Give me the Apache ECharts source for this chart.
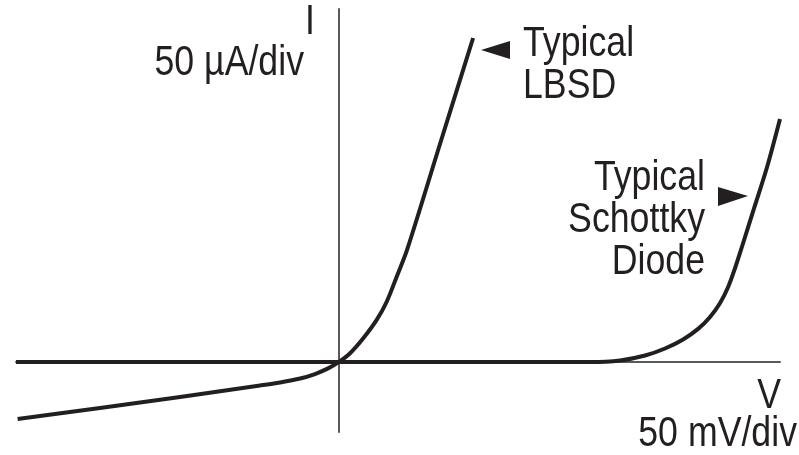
<!DOCTYPE html>
<html><head><meta charset="utf-8">
<script src="https://cdn.jsdelivr.net/npm/echarts@6/dist/echarts.min.js"></script>
<style>html,body{margin:0;padding:0;background:#fff}#c{width:799px;height:455px}</style>
</head><body><div id="c"></div>
<script>
// Voltage in mV (50 mV/div), current in µA (50 µA/div)
const lbsdV = [-199, -148, -98.4, -48.9, -36.5, -24.1, -14.9, -6.8, 0, 6.8, 15.0, 23.3, 29.5, 35.7, 42.1, 62.5, 83];
const lbsdI = [-40.7, -32.8, -25.0, -16.8, -14.6, -11.8, -8.6, -4.6, 0, 6.2, 16.9, 30.0, 43.0, 60.9, 80.0, 155.6, 231.3];
const schottkyV = [-200, 0, 155.4, 174, 189.5, 201.8, 213, 222.3, 229.7, 235.9, 240.9, 245.2, 249.6, 257.6, 265, 273];
const schottkyI = [0, 0, 0, 1.1, 4.6, 9.6, 16.1, 23.6, 32.1, 42.1, 53.5, 67.1, 82.8, 112.1, 139.2, 173.5];
const yAxisName = 'I';
const yAxisUnit = '50 µA/div';
const xAxisName = 'V';
const xAxisUnit = '50 mV/div';
const lbsdLabel = 'Typical\nLBSD';
const schottkyLabel = 'Typical\nSchottky\nDiode';

const FONT = "'Liberation Sans', Arial, sans-serif";
const TXT = '#231f20';
const SX = 0.85;
const zip = (a, b) => a.map((v, i) => [v, b[i]]);

const chart = echarts.init(document.getElementById('c'), null, {renderer: 'canvas'});
const axisCommon = {
  type: 'value',
  axisLine: {show: true, onZero: true, lineStyle: {color: '#58595b', width: 2}},
  axisTick: {show: false}, axisLabel: {show: false}, splitLine: {show: false}
};
const textStyle = (extra) => Object.assign({fill: TXT, font: '42px ' + FONT, lineHeight: 42}, extra);
const txt = (x, y, style) => ({type: 'text', x: x, y: y, scaleX: SX, style: textStyle(style)});
chart.setOption({
  animation: false,
  backgroundColor: '#fff',
  grid: {left: 16, right: 19, top: 9, bottom: 23, containLabel: false},
  xAxis: Object.assign({}, axisCommon, {min: -200, max: 273}),
  yAxis: Object.assign({}, axisCommon, {min: -50, max: 252}),
  series: [
    {type: 'line', name: 'Typical Schottky Diode', data: zip(schottkyV, schottkyI), showSymbol: false,
     smooth: 0.3, lineStyle: {color: TXT, width: 4, cap: 'butt', join: 'round'}, z: 3},
    {type: 'line', name: 'Typical LBSD', data: zip(lbsdV, lbsdI), showSymbol: false,
     smooth: 0.3, lineStyle: {color: TXT, width: 4, cap: 'butt', join: 'round'}, z: 4}
  ],
  graphic: [
    txt(310, 22, {text: yAxisName, align: 'center', verticalAlign: 'middle'}),
    txt(304, 63, {text: yAxisUnit, align: 'right', verticalAlign: 'middle'}),
    txt(781, 396, {text: xAxisName, align: 'right', verticalAlign: 'middle'}),
    txt(797, 434, {text: xAxisUnit, align: 'right', verticalAlign: 'middle'}),
    txt(523, 23, {text: lbsdLabel, align: 'left', verticalAlign: 'top'}),
    txt(705, 157, {text: schottkyLabel, align: 'right', verticalAlign: 'top'}),
    {type: 'polygon', shape: {points: [[481, 50], [510, 41], [510, 59]]}, style: {fill: TXT}},
    {type: 'polygon', shape: {points: [[748, 196], [718, 187], [718, 206]]}, style: {fill: TXT}}
  ]
});
</script></body></html>
